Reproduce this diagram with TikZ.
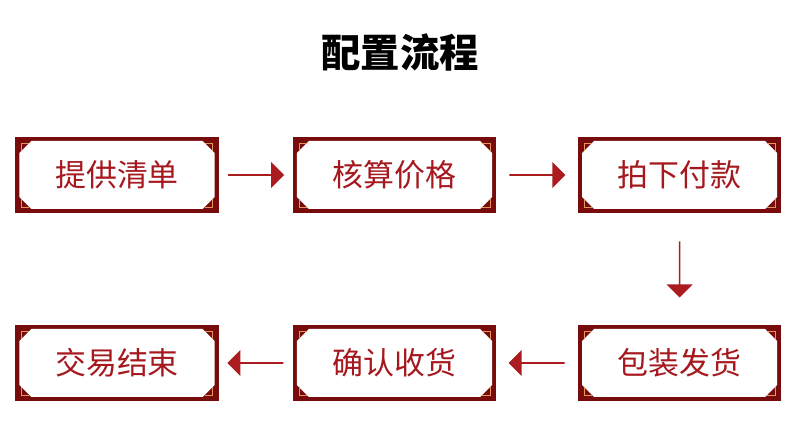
\documentclass[tikz,border=0pt]{standalone}
\usepackage{fontspec}
\newfontfamily\cjk{Noto Sans CJK SC}
\usetikzlibrary{shapes.arrows,positioning,calc}
\definecolor{boxred}{RGB}{120,12,12}
\definecolor{txtred}{RGB}{165,25,30}
\definecolor{arrred}{RGB}{170,28,32}
\definecolor{lineor}{RGB}{230,150,90}
\tikzset{
  stepbox/.style={rectangle, fill=boxred, minimum width=5.08cm, minimum height=1.9cm,
    inner sep=0pt, text=txtred, font=\cjk\fontsize{22}{24}\selectfont,
    path picture={
      \coordinate (sw) at (path picture bounding box.south west);
      \coordinate (ne) at (path picture bounding box.north east);
      \fill[white] ([shift={(0.1,0.4)}]sw) -- ([shift={(0.4,0.1)}]sw)
        -- ([shift={(-0.4,0.1)}]ne|-sw) -- ([shift={(-0.1,0.4)}]ne|-sw)
        -- ([shift={(-0.1,-0.4)}]ne) -- ([shift={(-0.4,-0.1)}]ne)
        -- ([shift={(0.4,-0.1)}]sw|-ne) -- ([shift={(0.1,-0.4)}]sw|-ne) -- cycle;
      \draw[lineor, line width=0.3pt] ([shift={(0.15,0.35)}]sw) |- ([shift={(0.35,0.15)}]sw);
      \draw[lineor, line width=0.3pt] ([shift={(-0.15,0.35)}]ne|-sw) |- ([shift={(-0.35,0.15)}]ne|-sw);
      \draw[lineor, line width=0.3pt] ([shift={(-0.15,-0.35)}]ne) |- ([shift={(-0.35,-0.15)}]ne);
      \draw[lineor, line width=0.3pt] ([shift={(0.15,-0.35)}]sw|-ne) |- ([shift={(0.35,-0.15)}]sw|-ne);
    }},
  fatarrow/.style={single arrow, fill=arrred, minimum width=0.65cm, minimum height=1.4cm,
    single arrow head extend=0.1cm, inner sep=0pt}
}
\begin{document}
\begin{tikzpicture}
  \useasboundingbox (0,0) rectangle (20,-10.775);
  \node[font=\cjk\bfseries\fontsize{28}{30}\selectfont] (title) at (10,-1.3) {配置流程};

  \node[stepbox] (list)   at (2.925,-4.375) {提供清单};
  \node[stepbox] (price)  at (9.86,-4.375) {核算价格};
  \node[stepbox] (pay)    at (16.99,-4.375) {拍下付款};
  \node[stepbox] (pack)   at (16.99,-9.075) {包装发货};
  \node[stepbox] (recv)   at (9.86,-9.075) {确认收货};
  \node[stepbox] (done)   at (2.925,-9.075) {交易结束};

  % arrows between steps
  \node[fatarrow] (a1) at ($(list.east)!0.5!(price.west)$) {};
  \node[fatarrow] (a2) at ($(price.east)!0.5!(pay.west)$) {};
  \node[fatarrow, shape border rotate=270] (a3) at ($(pay.south)!0.5!(pack.north)$) {};
  \node[fatarrow, shape border rotate=180] (a4) at ($(pack.west)!0.5!(recv.east)$) {};
  \node[fatarrow, shape border rotate=180] (a5) at ($(recv.west)!0.5!(done.east)$) {};
\end{tikzpicture}
\end{document}
